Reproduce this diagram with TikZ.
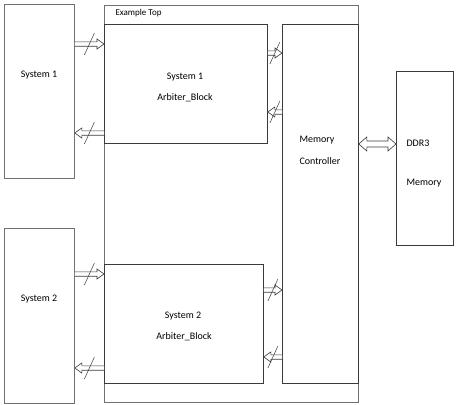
\documentclass[tikz,border=0pt]{standalone}
\usepackage{fontspec}
\setmainfont{Carlito}
\usetikzlibrary{arrows.meta, positioning, calc}
\definecolor{boxline}{HTML}{3A3A3A}
\definecolor{frameline}{HTML}{707070}
\tikzset{
  block/.style={draw=boxline, line width=0.8pt, anchor=north west,
                inner sep=0pt, minimum width=#1},
  busline/.style={draw=boxline, line width=0.6pt, line join=miter, fill=white},
  buscut/.pic={\draw[boxline, line width=0.5pt] (-5,11) -- (5,-11);}
}
% hollow bus arrow: from, to, direction (1 right, -1 left)
\newcommand{\bus}[3]{%
  \draw[busline] ([yshift=2.2pt]#1) -- ([xshift={-(#3)*7pt}, yshift=2.2pt]#2)
    -- ([xshift={-(#3)*7pt}, yshift=5pt]#2) -- (#2)
    -- ([xshift={-(#3)*7pt}, yshift=-5pt]#2)
    -- ([xshift={-(#3)*7pt}, yshift=-2.2pt]#2) -- ([yshift=-2.2pt]#1);
  \pic at ($(#1)!0.5!(#2)$) {buscut};}

\begin{document}
\begin{tikzpicture}[x=1pt, y=-1pt, font=\fontsize{10}{12}\selectfont]
  \useasboundingbox (0,0) rectangle (459,405);
  % outer frame and blocks
  \node[block=254pt, draw=frameline, minimum height=397pt] (top) at (104,5) {};
  \node[block=70pt, draw=frameline, minimum height=174pt] (sys1) at (4,4) {};
  \node[block=70pt, draw=frameline, minimum height=175pt] (sys2) at (4,228) {};
  \node[block=163pt, minimum height=119pt] (arb1) at (104,24) {};
  \node[block=159pt, minimum height=119pt] (arb2) at (104,264) {};
  \node[block=76pt, minimum height=359pt] (mc) at (282,24) {};
  \node[block=57pt, minimum height=174pt] (ddr) at (396,71) {};
  \node[anchor=west, font=\fontsize{9}{11}\selectfont] (toplab) at (112,13) {Example Top};
  % labels
  \foreach \txt/\anc/\x/\y [count=\n] in
    {System 1/center/39/75, System 2/center/39/299,
     System 1/center/185/77, Arbiter\_Block/center/185/98,
     System 2/center/183/316, Arbiter\_Block/center/184/337,
     Memory/west/296/140, Controller/west/296/161,
     DDR3/west/403/143, Memory/west/403/183}{%
    \node[anchor=\anc] (lab\n) at (\x,\y) {\txt};}
  % bus ends
  \foreach \y [count=\n] in {44,133,274,368}{%
    \coordinate (sl\n) at (sys1.east |- 0,\y);
    \coordinate (tl\n) at (top.west |- 0,\y);}
  \foreach \y [count=\n] in {53,112}{%
    \coordinate (al\n) at (arb1.east |- 0,\y);
    \coordinate (ml\n) at (mc.west |- 0,\y);}
  \foreach \y [count=\n from 3] in {290,357}{%
    \coordinate (al\n) at (arb2.east |- 0,\y);
    \coordinate (ml\n) at (mc.west |- 0,\y);}
  \coordinate (mr) at (mc.east |- 0,144);
  \coordinate (dl) at (ddr.west |- 0,144);
  % buses
  \bus{sl1}{tl1}{1}
  \bus{tl2}{sl2}{-1}
  \bus{sl3}{tl3}{1}
  \bus{tl4}{sl4}{-1}
  \bus{al1}{ml1}{1}
  \bus{ml2}{al2}{-1}
  \bus{al3}{ml3}{1}
  \bus{ml4}{al4}{-1}
  \draw[busline] (mr) -- ([xshift=8pt, yshift=7pt]mr) -- ([xshift=8pt, yshift=3pt]mr)
    -- ([xshift=-8pt, yshift=3pt]dl) -- ([xshift=-8pt, yshift=7pt]dl) -- (dl)
    -- ([xshift=-8pt, yshift=-7pt]dl) -- ([xshift=-8pt, yshift=-3pt]dl)
    -- ([xshift=8pt, yshift=-3pt]mr) -- ([xshift=8pt, yshift=-7pt]mr) -- cycle;
\end{tikzpicture}
\end{document}
